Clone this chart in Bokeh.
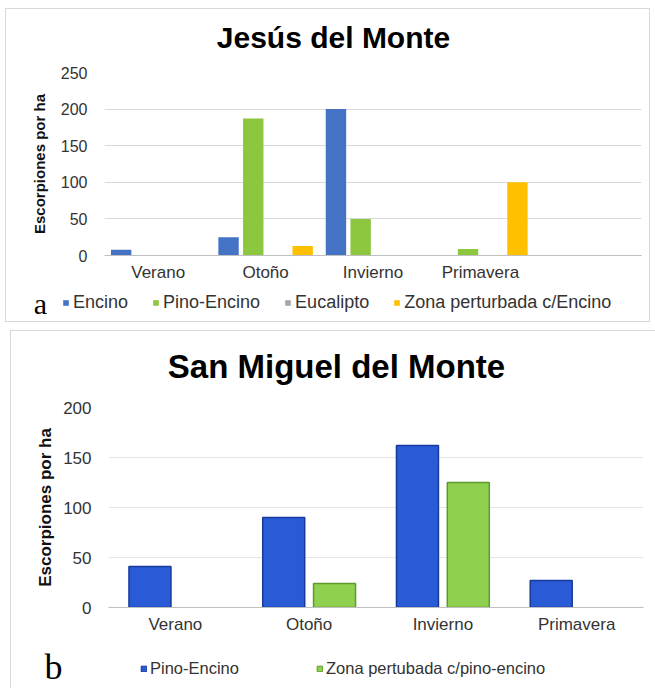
from bokeh.plotting import figure
from bokeh.models import (ColumnDataSource, FactorRange, Range1d, FixedTicker, Legend,
                          LegendItem, Label, CDSView, BooleanFilter)
from bokeh.transform import dodge
from bokeh.layouts import column, row
from bokeh.embed import file_html
from bokeh.resources import INLINE

# ---------------- data ----------------
seasons = ["Verano", "Otoño", "Invierno", "Primavera"]
ylabel = "Escorpiones por ha"

title_a = "Jesús del Monte"
factors_a = seasons + [" "]
series_a = ["Encino", "Pino-Encino", "Eucalipto", "Zona perturbada c/Encino"]
encino_a = [8, 25, 200, 0]
pino_encino_a = [0, 187, 50, 9]
eucalipto_a = [0, 0, 0, 0]
zona_a = [0, 13, 0, 100]
yticks_a = [0, 50, 100, 150, 200, 250]

title_b = "San Miguel del Monte"
series_b = ["Pino-Encino", "Zona pertubada c/pino-encino"]
pino_encino_b = [41, 90, 162, 27]
zona_b = [0, 24, 125, 0]
yticks_b = [0, 50, 100, 150, 200]

FONT = "Liberation Sans"
SERIF = "Liberation Serif"
G = "#d9d9d9"
W = 655


def shadow(left, right=None, top=None, bottom=False):
    whites, greys = [f"inset {left}px 0 0 0 #fff"], [f"inset {left + 1}px 0 0 0 {G}"]
    if right is not None:
        whites.append(f"inset -{right}px 0 0 0 #fff")
        greys.append(f"inset -{right + 1}px 0 0 0 {G}")
    if top is not None:
        whites.append(f"inset 0 {top}px 0 0 #fff")
        greys.append(f"inset 0 {top + 1}px 0 0 {G}")
    if bottom:
        greys.append(f"inset 0 -1px 0 0 {G}")
    return {"box-shadow": ", ".join(whites + greys)}


def strip(height, styles):
    s = figure(width=W, height=height, x_range=Range1d(0, W), y_range=Range1d(0, height),
               x_axis_type=None, y_axis_type=None, min_border=0,
               output_backend="svg", toolbar_location=None, styles=styles)
    s.grid.visible = False
    s.outline_line_color = None
    s.border_fill_color = None
    s.background_fill_color = None
    return s


def chart(height, factors, ymax, borders, styles):
    l, r, t, b = borders
    p = figure(width=W, height=height,
               x_range=FactorRange(factors=factors, range_padding=0),
               y_range=Range1d(0, ymax), output_backend="svg", toolbar_location=None,
               min_border_left=l, min_border_right=r, min_border_top=t,
               min_border_bottom=b, styles=styles)
    p.outline_line_color = None
    p.border_fill_color = None
    p.background_fill_color = None
    p.xgrid.grid_line_color = None
    return p


def style_axes(p, yticks, tick_size, xlab_size, ylab_size, ylab_standoff, grid_color):
    p.ygrid.ticker = FixedTicker(ticks=yticks)
    p.ygrid.grid_line_color = grid_color
    ya = p.yaxis[0]
    ya.ticker = FixedTicker(ticks=yticks)
    ya.axis_line_color = None
    ya.major_tick_line_color = None
    ya.major_tick_out = 0
    ya.minor_tick_line_color = None
    ya.major_label_standoff = 17
    ya.major_label_text_font = FONT
    ya.major_label_text_font_size = tick_size
    ya.major_label_text_color = "#333333"
    ya.axis_label = ylabel
    ya.axis_label_text_font = FONT
    ya.axis_label_text_font_size = ylab_size
    ya.axis_label_text_font_style = "bold"
    ya.axis_label_text_color = "#111111"
    ya.axis_label_standoff = ylab_standoff
    xa = p.xaxis[0]
    xa.axis_line_color = "#bfbfbf"
    xa.major_tick_line_color = None
    xa.major_tick_out = 0
    xa.minor_tick_line_color = None
    xa.major_label_standoff = 7
    xa.major_label_text_font = FONT
    xa.major_label_text_font_size = xlab_size
    xa.major_label_text_color = "#333333"


def legend_strip(s, names, fills, lines, x0, y0, spacing, standoff, size, letter, lx, ly,
                 letter_size):
    items = []
    for name, fc, lc in zip(names, fills, lines):
        # legend key renderer: a single zero-size bar kept outside the visible range
        r = s.vbar(x=[-50], top=[0], bottom=[0], width=0, fill_color=fc, line_color=lc)
        items.append(LegendItem(label=name, renderers=[r]))
    s.add_layout(Legend(items=items, orientation="horizontal", location=(x0, y0),
                        glyph_width=7, glyph_height=7, label_height=7,
                        label_standoff=standoff, spacing=spacing, padding=0, margin=0,
                        border_line_color=None, background_fill_alpha=0,
                        label_text_font=FONT, label_text_font_size=size,
                        label_text_color="#333333"))
    s.add_layout(Label(x=lx, y=ly, text=letter, text_align="center",
                       text_baseline="alphabetic", text_font=SERIF,
                       text_font_size=letter_size, text_color="#000000"))


# ---------------- panel a ----------------
ta = strip(60, shadow(5, 5, 8))
ta.add_layout(Label(x=333, y=23, text=title_a, text_align="center",
                    text_baseline="alphabetic", text_font=FONT, text_font_size="30px",
                    text_font_style="bold", text_color="#000000"))

pa = chart(224, factors_a, 250, (104, 14, 12, 28), shadow(5, 5))
style_axes(pa, yticks_a, "16px", "17px", "15px", 10, "#d9d9d9")
src_a = ColumnDataSource(dict(season=seasons, encino=encino_a, pino=pino_encino_a,
                              euca=eucalipto_a, zona=zona_a))
cols_a = ["encino", "pino", "euca", "zona"]
colors_a = ["#4472C4", "#8DC63F", "#A5A5A5", "#FFC000"]
offsets_a = [-0.345, -0.115, 0.115, 0.345]
for col, c, off in zip(cols_a, colors_a, offsets_a):
    pa.vbar(x=dodge("season", off, range=pa.x_range), top=col, width=0.19,
            source=src_a, fill_color=c, line_color=None)

la = strip(38, shadow(5, 5, None, True))
legend_strip(la, series_a, colors_a, [None] * 4, 62, 9.5, 24, 4, "18px", "a", 40, 19,
             "30px")

# ---------------- panel b ----------------
tb = strip(66, shadow(10, None, 8))
tb.add_layout(Label(x=336, y=22, text=title_b, text_align="center",
                    text_baseline="alphabetic", text_font=FONT, text_font_size="33px",
                    text_font_style="bold", text_color="#000000"))

pb = chart(252, seasons, 200, (108, 12, 19, 33), shadow(10))
style_axes(pb, yticks_b, "17px", "17px", "17px", 5, "#e6e6e6")
src_b = ColumnDataSource(dict(season=seasons, pino=pino_encino_b, zona=zona_b))
vals_b = [pino_encino_b, zona_b]
cols_b = ["pino", "zona"]
fill_b = ["#2A5BD7", "#8FD14F"]
line_b = ["#17399A", "#5E9A2E"]
offsets_b = [-0.19, 0.19]
for col, vals, fc, lc, off in zip(cols_b, vals_b, fill_b, line_b, offsets_b):
    view = CDSView(filter=BooleanFilter([v > 0 for v in vals]))
    pb.vbar(x=dodge("season", off, range=pb.x_range), top=col, width=0.314,
            source=src_b, view=view, fill_color=fc, line_color=lc, line_width=1.5)

lb = strip(48, shadow(10))
legend_strip(lb, series_b, fill_b, line_b, 140, 10, 77, 3, "16.5px", "b", 53, 22, "36px")

layout = column([row(f) for f in (ta, pa, la, tb, pb, lb)], spacing=0)
open("out.html", "w").write(file_html(layout, INLINE))
